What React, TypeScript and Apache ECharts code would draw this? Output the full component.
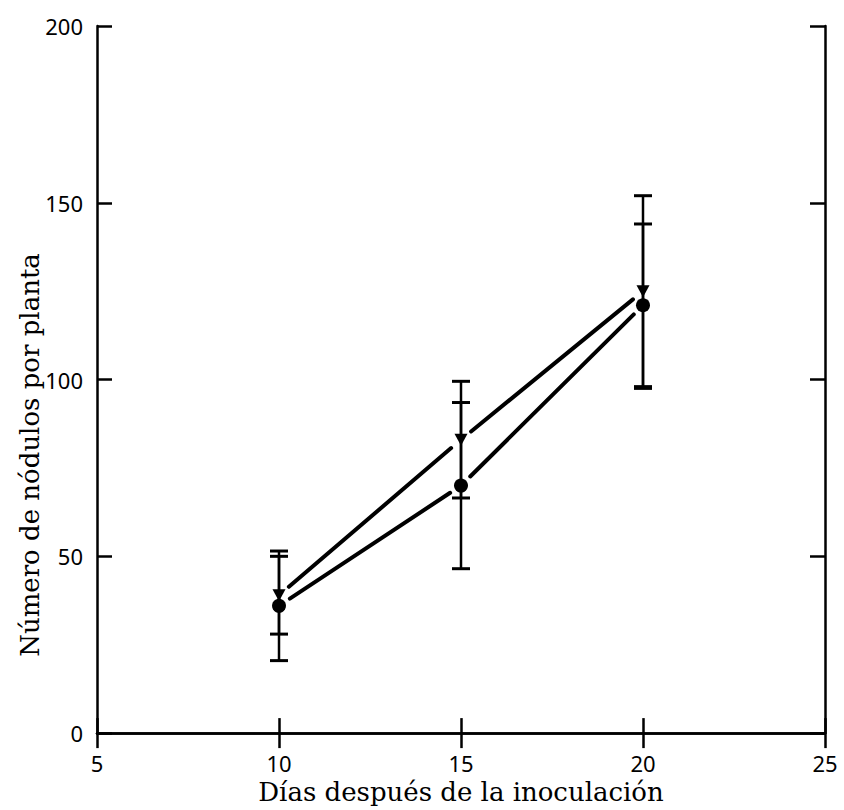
import React, { useEffect, useRef } from "react";
import * as echarts from "echarts";

const days = [10, 15, 20];
const triangleMean = [39, 83, 125];
const triangleLow = [28, 66.5, 98];
const triangleHigh = [50, 99.5, 152];
const circleMean = [36, 70, 121];
const circleLow = [20.5, 46.5, 97.5];
const circleHigh = [51.5, 93.5, 144];
const xTicks = [5, 10, 15, 20, 25];
const yTicks = [0, 50, 100, 150, 200];
const xTitle = "Días después de la inoculación";
const yTitle = "Número de nódulos por planta";

function segments(ys: number[]) {
  const out: number[][] = [];
  for (let i = 0; i < days.length - 1; i++) out.push([days[i], ys[i], days[i + 1], ys[i + 1]]);
  return out;
}

function bars(lows: number[], highs: number[]) {
  return days.map((d, i) => [d, lows[i], highs[i]]);
}

const segRender = (params: any, api: any) => {
  const p1 = api.coord([api.value(0), api.value(1)]);
  const p2 = api.coord([api.value(2), api.value(3)]);
  const dx = p2[0] - p1[0];
  const dy = p2[1] - p1[1];
  const len = Math.sqrt(dx * dx + dy * dy);
  const gap = 13;
  const ux = dx / len;
  const uy = dy / len;
  return {
    type: "line",
    shape: { x1: p1[0] + ux * gap, y1: p1[1] + uy * gap, x2: p2[0] - ux * gap, y2: p2[1] - uy * gap },
    style: { stroke: "#000", lineWidth: 4, lineCap: "round" },
  };
};

const barRender = (params: any, api: any) => {
  const lo = api.coord([api.value(0), api.value(1)]);
  const hi = api.coord([api.value(0), api.value(2)]);
  const w = 9;
  const st = { stroke: "#000", lineWidth: 2.5 };
  return {
    type: "group",
    children: [
      { type: "line", shape: { x1: lo[0], y1: lo[1], x2: hi[0], y2: hi[1] }, style: st },
      { type: "line", shape: { x1: lo[0] - w, y1: lo[1], x2: lo[0] + w, y2: lo[1] }, style: { stroke: "#000", lineWidth: 3 } },
      { type: "line", shape: { x1: hi[0] - w, y1: hi[1], x2: hi[0] + w, y2: hi[1] }, style: { stroke: "#000", lineWidth: 3 } },
    ],
  };
};

export default function App() {
  const ref = useRef<HTMLDivElement>(null);
  useEffect(() => {
    document.body.style.margin = "0";
    const chart = echarts.init(ref.current!, null, { renderer: "svg" });
    const tickFont = { fontFamily: "Noto Sans", fontSize: 22, color: "#000" };
    const axisLine = { show: true, lineStyle: { color: "#000", width: 2.5 } };
    const axisTick = { show: true, inside: true, length: 15, lineStyle: { color: "#000", width: 2.5 } };
    chart.setOption({
      animation: false,
      backgroundColor: "#fff",
      grid: { left: 97, top: 26, width: 728, height: 712, containLabel: false },
      xAxis: [
        {
          type: "value", min: 5, max: 25, interval: 5, position: "bottom",
          axisLine, axisTick, splitLine: { show: false },
          axisLabel: { ...tickFont, margin: 19, formatter: (v: number) => (xTicks.includes(v) ? String(v) : "") },
          name: xTitle, nameLocation: "middle", nameGap: 32,
          nameTextStyle: { fontFamily: "DejaVu Serif", fontSize: 26, color: "#000" },
        },
        {
          type: "value", min: 5, max: 25, interval: 5, position: "top",
          axisLine, axisTick, axisLabel: { show: false }, splitLine: { show: false },
        },
      ],
      yAxis: [
        {
          type: "value", min: 0, max: 200, interval: 50, position: "left",
          axisLine, axisTick, splitLine: { show: false },
          axisLabel: { ...tickFont, margin: 14, formatter: (v: number) => (yTicks.includes(v) ? String(v) : "") },
        },
        {
          type: "value", min: 0, max: 200, interval: 50, position: "right",
          axisLine, axisTick, axisLabel: { show: false }, splitLine: { show: false },
        },
      ],
      graphic: [
        {
          type: "text", x: 30, y: 455, rotation: Math.PI / 2,
          style: {
            text: yTitle, fontFamily: "DejaVu Serif", fontSize: 26, fill: "#000",
            align: "center", verticalAlign: "middle",
          },
        },
      ],
      series: [
        { type: "custom", renderItem: segRender, data: segments(triangleMean), silent: true },
        { type: "custom", renderItem: segRender, data: segments(circleMean), silent: true },
        { type: "custom", renderItem: barRender, data: bars(triangleLow, triangleHigh), silent: true },
        { type: "custom", renderItem: barRender, data: bars(circleLow, circleHigh), silent: true },
        {
          type: "scatter", symbol: "triangle", symbolRotate: 180, symbolSize: [13, 12],
          itemStyle: { color: "#000", opacity: 1 }, data: days.map((d, i) => [d, triangleMean[i]]), z: 5,
        },
        {
          type: "scatter", symbol: "circle", symbolSize: 14,
          itemStyle: { color: "#000", opacity: 1 }, data: days.map((d, i) => [d, circleMean[i]]), z: 5,
        },
      ],
    });
    return () => chart.dispose();
  }, []);
  return <div ref={ref} style={{ width: 844, height: 810 }} />;
}
